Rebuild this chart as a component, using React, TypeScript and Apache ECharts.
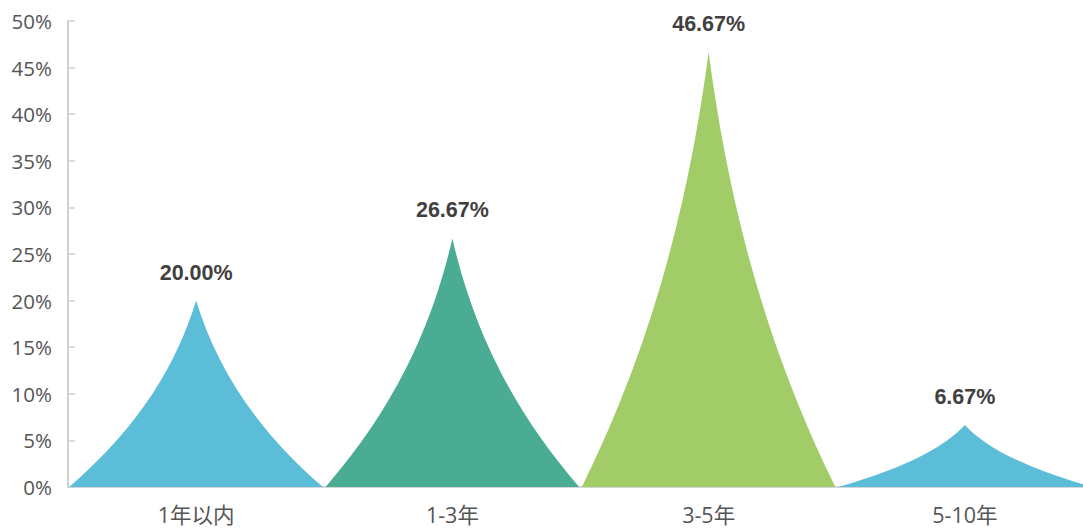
import React, { useEffect, useRef } from "react";
import * as echarts from "echarts";

const categories = ["1年以内", "1-3年", "3-5年", "5-10年"];
const shares = [20.0, 26.67, 46.67, 6.67];
const colors = ["#5BBDD7", "#4AAC92", "#A2CC68", "#5BBDD7"];
const yTicks = { min: 0, max: 50, interval: 5 };

const spike = "path://M0,10 L10,10 C7.165,6.67 5.75,3.33 5,0 C4.25,3.33 2.835,6.67 0,10 Z";

export default function App() {
  const ref = useRef<HTMLDivElement>(null);
  useEffect(() => {
    if (!ref.current) return;
    const chart = echarts.init(ref.current, null, { renderer: "svg" });
    chart.setOption({
      animation: false,
      grid: { left: 68, width: 1025, top: 21, bottom: 41, outerBoundsMode: "none", containLabel: false },
      xAxis: {
        type: "category",
        data: categories,
        axisLine: { lineStyle: { color: "#d6d6d6", width: 2 } },
        axisTick: { show: false },
        axisLabel: {
          color: "#555555",
          fontSize: 21.5,
          lineHeight: 22,
          margin: 16,
          fontFamily: "'Open Sans', 'Noto Sans CJK SC', sans-serif",
        },
      },
      yAxis: {
        type: "value",
        min: yTicks.min,
        max: yTicks.max,
        interval: yTicks.interval,
        splitLine: { show: false },
        axisLine: { show: true, lineStyle: { color: "#d0d0d0", width: 2 } },
        axisTick: { show: true, inside: true, length: 7, lineStyle: { color: "#d0d0d0", width: 1.5 } },
        axisLabel: {
          color: "#555555",
          fontSize: 20.5,
          margin: 16,
          formatter: "{value}%",
          fontFamily: "'Open Sans', 'Noto Sans CJK SC', sans-serif",
        },
      },
      series: [
        {
          type: "pictorialBar",
          symbol: spike,
          symbolSize: ["100%", "100%"],
          barCategoryGap: "1%",
          label: {
            show: true,
            position: "top",
            distance: 17,
            fontSize: 21.5,
            fontWeight: "bold",
            color: "#404040",
            fontFamily: "'Liberation Sans', Arial, sans-serif",
            formatter: (p: any) => Number(p.value).toFixed(2) + "%",
          },
          data: shares.map((v, i) => ({ value: v, itemStyle: { color: colors[i] } })),
        },
      ],
    });
    return () => chart.dispose();
  }, []);
  return (
    <div
      ref={ref}
      style={{ position: "fixed", left: 0, top: 0, width: 1083, height: 528, background: "#fff" }}
    />
  );
}
